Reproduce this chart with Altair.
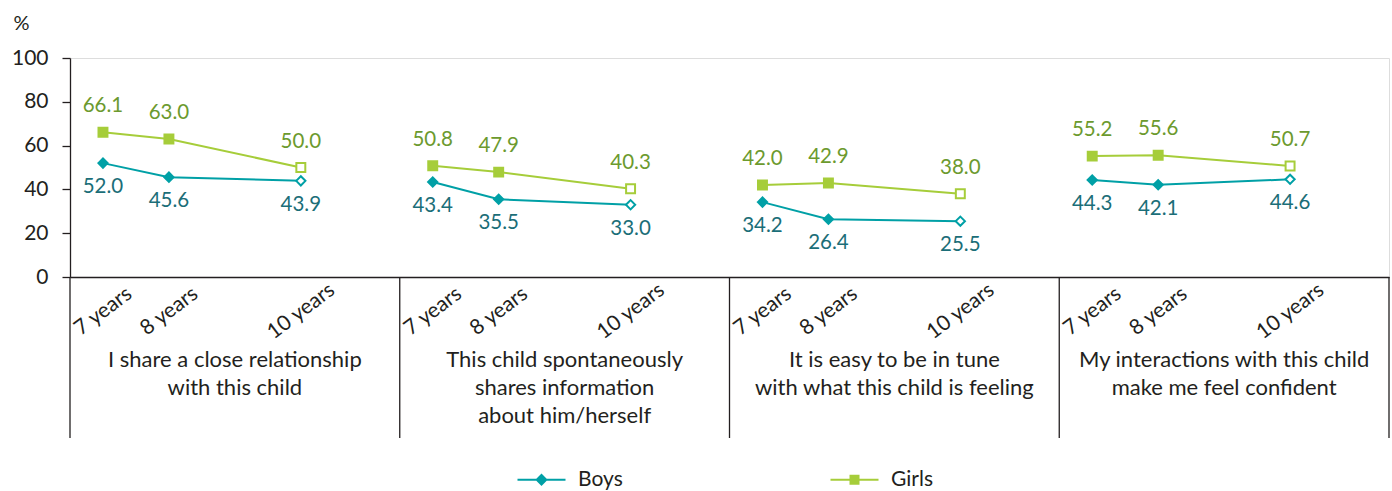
import altair as alt
import pandas as pd

# --- data -----------------------------------------------------------------
ages = [7, 8, 10]
age_labels = ["7 years", "8 years", "10 years"]
statements = [
    "I share a close relationship|with this child",
    "This child spontaneously|shares information|about him/herself",
    "It is easy to be in tune|with what this child is feeling",
    "My interactions with this child|make me feel confident",
]
boys = [
    [52.0, 45.6, 43.9],
    [43.4, 35.5, 33.0],
    [34.2, 26.4, 25.5],
    [44.3, 42.1, 44.6],
]
girls = [
    [66.1, 63.0, 50.0],
    [50.8, 47.9, 40.3],
    [42.0, 42.9, 38.0],
    [55.2, 55.6, 50.7],
]
series_names = ["Boys", "Girls"]

# --- styling --------------------------------------------------------------
TEAL = "#00a0a6"
TEAL_TEXT = "#1b6e78"
LIME = "#a6cd3a"
LIME_TEXT = "#6c9a2e"
INK = "#231f20"
FONT = "Lato"

SPAN = 5          # each statement panel covers ages 6.5 .. 11.5
START = 6.5

rows = []
for p, stmt in enumerate(statements):
    for name, table in (("Boys", boys), ("Girls", girls)):
        for a, v in zip(ages, table[p]):
            rows.append({
                "panel": p,
                "series": name,
                "age": a,
                "value": v,
                "pos": p * SPAN + (a - START),
            })
df = pd.DataFrame(rows)

dividers = pd.DataFrame({"pos": [p * SPAN for p in range(len(statements) + 1)]})
cats = pd.DataFrame({
    "pos": [p * SPAN + SPAN / 2 for p in range(len(statements))],
    "label": statements,
})
tick_values = [p * SPAN + (a - START) for p in range(len(statements)) for a in ages]
label_expr = " : ".join(
    f"abs(datum.value % {SPAN} - {a - START}) < 0.01 ? '{lab}'"
    for a, lab in zip(ages[:-1], age_labels[:-1])
) + f" : '{age_labels[-1]}'"

W, H = 1319, 219

x_enc = alt.X(
    "pos:Q",
    scale=alt.Scale(domain=[0, SPAN * len(statements)], nice=False, zero=False),
    axis=alt.Axis(
        values=tick_values,
        labelExpr=label_expr,
        labelAngle=-37,
        labelAlign="center",
        labelBaseline="middle",
        labelPadding=34,
        labelOverlap=False,
        labelFlush=False,
        labelBound=False,
        ticks=False,
        tickSize=0,
        grid=False,
        title=None,
        labelFontSize=21,
        labelFont=FONT,
        labelColor=INK,
        domainColor=INK,
        domainWidth=1.3,
    ),
)
y_enc = alt.Y(
    "value:Q",
    scale=alt.Scale(domain=[0, 100], nice=False),
    axis=alt.Axis(
        values=[0, 20, 40, 60, 80, 100],
        tickSize=8,
        tickColor=INK,
        tickWidth=1.3,
        labelPadding=14,
        labelFontSize=21,
        labelFont=FONT,
        labelColor=INK,
        domainColor=INK,
        domainWidth=1.3,
        grid=False,
        title="%",
        titleAngle=0,
        titleX=-57,
        titleY=-35,
        titleAlign="left",
        titleBaseline="middle",
        titleFont=FONT,
        titleFontSize=20,
        titleFontWeight="normal",
        titleColor=INK,
    ),
)

base = alt.Chart(df)


def series_line(name, color, with_axes=False):
    return base.transform_filter(alt.datum.series == name).mark_line(
        strokeWidth=2, color=color
    ).encode(
        x=x_enc if with_axes else alt.X("pos:Q"),
        y=y_enc if with_axes else alt.Y("value:Q"),
        detail="panel:N",
    )


def markers(name, shape, color, size):
    return base.transform_filter(alt.datum.series == name).mark_point(
        shape=shape, size=size, strokeWidth=2, opacity=1, stroke=color
    ).encode(
        x="pos:Q",
        y="value:Q",
        fill=alt.condition(alt.datum.age == ages[-1], alt.value("white"), alt.value(color)),
    )


boy_line = series_line("Boys", TEAL, with_axes=True)
girl_line = series_line("Girls", LIME)
boy_pts = markers("Boys", "diamond", TEAL, 85)
girl_pts = markers("Girls", "square", LIME, 80)

girl_labels = base.transform_filter(alt.datum.series == "Girls").mark_text(
    dy=-26, fontSize=20.5, font=FONT, color=LIME_TEXT
).encode(x="pos:Q", y="value:Q", text=alt.Text("value:Q", format=".1f"))

boy_labels = base.transform_filter(alt.datum.series == "Boys").mark_text(
    dy=24, fontSize=20.5, font=FONT, color=TEAL_TEXT
).encode(x="pos:Q", y="value:Q", text=alt.Text("value:Q", format=".1f"))

rules = alt.Chart(dividers).mark_rule(color=INK, strokeWidth=1.3).encode(
    x="pos:Q", y=alt.value(H), y2=alt.value(380)
)

cat_text = alt.Chart(cats).mark_text(
    baseline="top", align="center", fontSize=22, font=FONT, color=INK,
    lineBreak="|", lineHeight=28,
).encode(x="pos:Q", y=alt.value(292), text="label:N")

# legend: a short line with the series marker through its middle (fill-only paths)
boy_sym = "M-2.4,-0.1H2.4V0.1H-2.4Z M0,-0.62L0.62,0L0,0.62L-0.62,0Z"
girl_sym = "M-2.4,-0.1H2.4V0.1H-2.4Z M-0.5,-0.5H0.5V0.5H-0.5Z"
leg = alt.Legend(
    title=None,
    orient="none",
    direction="horizontal",
    legendX=461,
    legendY=411,
    symbolSize=400,
    symbolStrokeWidth=0,
    labelFont=FONT,
    labelFontSize=21,
    labelColor=INK,
    labelOffset=26,
    columnPadding=207,
)
legend_df = pd.DataFrame({"series": series_names, "pos": [0, 0], "value": [-500, -500]})
legend_layer = alt.Chart(legend_df).mark_point(filled=True, opacity=1, clip=True).encode(
    x="pos:Q",
    y="value:Q",
    shape=alt.Shape("series:N", scale=alt.Scale(domain=series_names, range=[boy_sym, girl_sym]), legend=leg),
    color=alt.Color("series:N", scale=alt.Scale(domain=series_names, range=[TEAL, LIME]), legend=leg),
)

chart = alt.layer(
    boy_line, girl_line, rules, boy_pts, girl_pts, girl_labels, boy_labels, cat_text, legend_layer
).properties(
    width=W, height=H,
    padding={"left": 11, "top": 13, "right": 0, "bottom": 0},
).configure_view(stroke=None).configure(background="white")

chart.save("out.html", embed_options={"renderer": "svg", "actions": False})
